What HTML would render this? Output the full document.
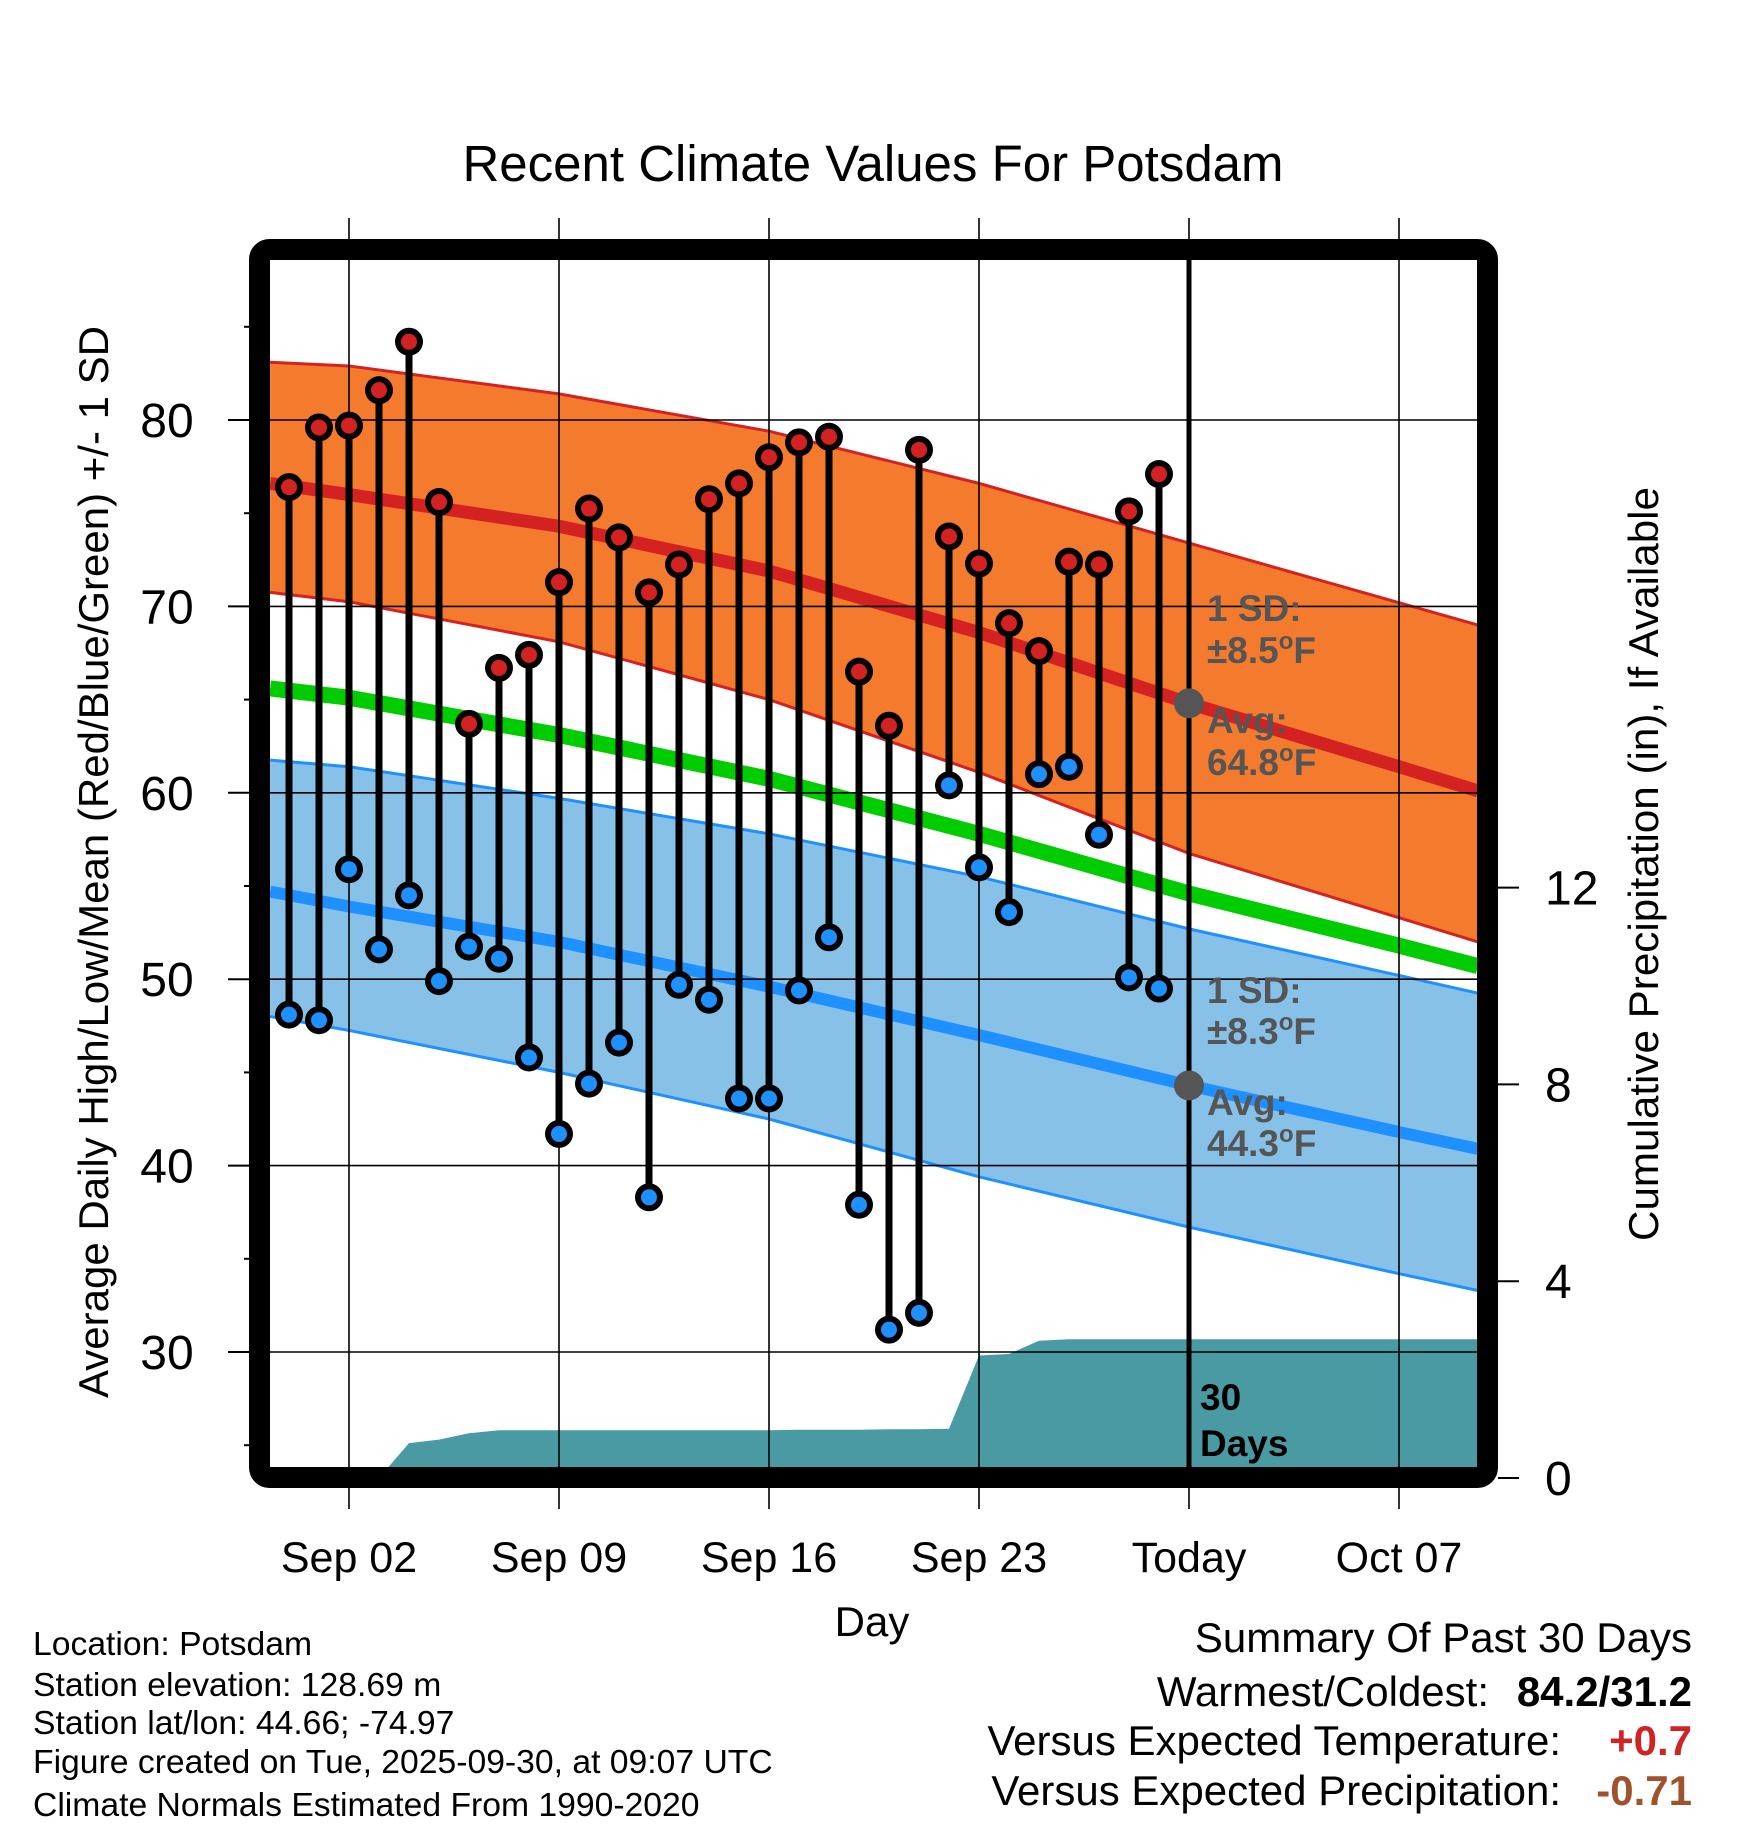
<!DOCTYPE html>
<html><head><meta charset="utf-8"><style>
html,body{margin:0;padding:0;background:#fff}
svg{display:block}
text{font-family:"Liberation Sans",sans-serif}
</style></head><body>
<svg id="chart" width="1748" height="1828" viewBox="0 0 1748 1828" xmlns="http://www.w3.org/2000/svg">
<text x="873" y="181" font-size="51" text-anchor="middle">Recent Climate Values For Potsdam</text>
<g id="plot"></g>
<text transform="translate(108,862) rotate(-90)" font-size="42" text-anchor="middle" textLength="1072" lengthAdjust="spacingAndGlyphs">Average Daily High/Low/Mean (Red/Blue/Green) +/- 1 SD</text>
<text transform="translate(1658,864) rotate(-90)" font-size="42" text-anchor="middle" textLength="754" lengthAdjust="spacingAndGlyphs">Cumulative Precipitation (in), If Available</text>
<text x="872" y="1636" font-size="42" text-anchor="middle">Day</text>
<g font-size="33.7">
<text x="33" y="1655">Location: Potsdam</text>
<text x="33" y="1696">Station elevation: 128.69 m</text>
<text x="33" y="1734">Station lat/lon: 44.66; -74.97</text>
<text x="33" y="1773">Figure created on Tue, 2025-09-30, at 09:07 UTC</text>
<text x="33" y="1816">Climate Normals Estimated From 1990-2020</text>
</g>
<g font-size="42">
<text x="1692" y="1652" text-anchor="end">Summary Of Past 30 Days</text>
<text x="1489" y="1706" text-anchor="end">Warmest/Coldest:</text>
<text x="1692" y="1706" text-anchor="end" font-weight="bold">84.2/31.2</text>
<text x="1561" y="1755" text-anchor="end">Versus Expected Temperature:</text>
<text x="1692" y="1755" text-anchor="end" font-weight="bold" fill="#d02424">+0.7</text>
<text x="1561" y="1805" text-anchor="end">Versus Expected Precipitation:</text>
<text x="1692" y="1805" text-anchor="end" font-weight="bold" fill="#a0522d">-0.71</text>
</g>
</svg>
<script>
// day offsets relative to Sep 02
const days = [-2,-1,0,1,2,3,4,5,6,7,8,9,10,11,12,13,14,15,16,17,18,19,20,21,22,23,24,25,26,27];
const highs = [76.4,79.6,79.7,81.6,84.2,75.6,63.7,66.7,67.4,71.3,75.25,73.7,70.75,72.25,75.75,76.6,78,78.8,79.1,66.5,63.6,78.4,73.75,72.3,69.1,67.6,72.4,72.25,75.1,77.1];
const lows = [48.1,47.8,55.9,51.6,54.5,49.9,51.75,51.1,45.8,41.7,44.4,46.6,38.3,49.7,48.9,43.6,43.6,49.4,52.25,37.9,31.2,32.1,60.4,56,53.6,61,61.4,57.75,50.1,49.5];
const precip = [0,0,0,0,0.71,0.78,0.91,0.97,0.97,0.97,0.97,0.97,0.97,0.97,0.97,0.97,0.97,0.98,0.98,0.98,0.99,0.99,1.0,2.49,2.52,2.79,2.82,2.82,2.82,2.82];
const normDays = [-2.63,0,7,14,21,28,35,37.63];
const normHigh = [76.6,76.0,74.3,71.9,68.6,64.8,61.4,60.1];
const highUpper = [83.1,82.9,81.4,79.4,76.6,73.4,70.2,69];
const highLower = [70.75,70.25,68.1,65,61.1,56.75,53.3,52];
const normMean = [65.6,65.1,63.1,60.75,57.8,54.6,51.8,50.7];
const normLow = [54.7,53.9,52.0,49.6,47,44.3,41.8,40.9];
const lowUpper = [61.75,61.4,59.7,57.8,55.5,52.7,50.2,49.25];
const lowLower = [48,47.25,45,42.5,39.4,36.7,34.2,33.3];
const xTickDays = [0,7,14,21,28,35];
const xTickLabels = ["Sep 02","Sep 09","Sep 16","Sep 23","Today","Oct 07"];
const yTicks = [30,40,50,60,70,80];
const y2Ticks = [0,4,8,12];
const todayDay = 28;

const NS="http://www.w3.org/2000/svg";
const X0=270,X1=1478,Y0=260,Y1=1468;
const xs=d=>349+30*d;
const ys=t=>420+(80-t)*18.64;
const yp=p=>1478-p*49.2;
const g=document.getElementById('plot');
function mk(tag,attrs,parent){const e=document.createElementNS(NS,tag);for(const k in attrs)e.setAttribute(k,attrs[k]);(parent||g).appendChild(e);return e;}
const clip=mk('clipPath',{id:'cp'});mk('rect',{x:X0,y:Y0,width:X1-X0,height:Y1-Y0},clip);
const inner=mk('g',{'clip-path':'url(#cp)'});
function band(up,lo,fill,name){
  let pts=normDays.map((d,i)=>xs(d)+','+ys(up[i]));
  pts=pts.concat(normDays.slice().reverse().map((d,i)=>xs(d)+','+ys(lo[lo.length-1-i])));
  const e=mk('polygon',{points:pts.join(' '),fill:fill},inner);
  
  
}
function line(arr,color,w,name){
  const e=mk('polyline',{points:normDays.map((d,i)=>xs(d)+','+ys(arr[i])).join(' '),fill:'none',stroke:color,'stroke-width':w,'stroke-linejoin':'round'},inner);
  
  
}
band(highUpper,highLower,'#f47a2e','normal-high-band');
line(highUpper,'#d42222',3,'high-band-upper-edge');
line(highLower,'#d42222',3,'high-band-lower-edge');
band(lowUpper,lowLower,'#87c1e8','normal-low-band');
line(lowUpper,'#1e90ff',3,'low-band-upper-edge');
line(lowLower,'#1e90ff',3,'low-band-lower-edge');
line(normMean,'#00cc00',16,'normal-mean-line');
line(normHigh,'#d42222',13,'normal-high-line');
line(normLow,'#1e90ff',12,'normal-low-line');
// precip
{
  let pts=days.map((d,i)=>xs(d)+','+yp(precip[i]));
  pts.push(X1+','+yp(precip[precip.length-1]));
  pts.push(X1+','+Y1); pts.push(xs(days[0])+','+Y1);
  const e=mk('polygon',{points:pts.join(' '),fill:'#4a9aa3'},inner);
  
  
}
// gridlines
yTicks.forEach(t=>{const e=mk('line',{x1:X0,x2:X1,y1:ys(t),y2:ys(t),stroke:'#000','stroke-width':1.6});
  
  });
xTickDays.forEach((d,i)=>{const e=mk('line',{x1:xs(d),x2:xs(d),y1:218,y2:1509,stroke:'#000','stroke-width':1.6});
  
  
  const t=mk('text',{x:xs(d),y:1572,'font-size':43,'text-anchor':'middle'});t.textContent=xTickLabels[i];
  
  });
// today line
{const e=mk('line',{x1:xs(todayDay),x2:xs(todayDay),y1:Y0,y2:Y1,stroke:'#000','stroke-width':5});
 
 }
// gray normal dots
[[normHigh,'today-normal-high-dot'],[normLow,'today-normal-low-dot']].forEach(([arr,n])=>{
  const c=mk('circle',{cx:xs(todayDay),cy:ys(arr[5]),r:15,fill:'#555'});
  
  
});
// labels
function lbl(x,y,txt,sup,fill,name){const t=mk('text',{x:x,y:y,'font-size':37,'font-weight':'bold',fill:fill});
  t.textContent=txt; if(sup){const s=mk('tspan',{'font-size':24,dy:-14},t);s.textContent='o';const f=mk('tspan',{dy:14},t);f.textContent='F';}
  
  }
lbl(1207,621,'1 SD:',false,'#555','high-sd-label');
lbl(1207,663,'\u00b18.5',true,'#555','high-sd-value');
lbl(1207,733,'Avg:',false,'#555','high-avg-label');
lbl(1207,775,'64.8',true,'#555','high-avg-value');
lbl(1207,1003,'1 SD:',false,'#555','low-sd-label');
lbl(1207,1044,'\u00b18.3',true,'#555','low-sd-value');
lbl(1207,1115,'Avg:',false,'#555','low-avg-label');
lbl(1207,1156,'44.3',true,'#555','low-avg-value');
lbl(1200,1410,'30',false,'#000','days-count-label');
lbl(1200,1456,'Days',false,'#000','days-word-label');
// stems and dots
days.forEach((d,i)=>{
  const s=mk('line',{x1:xs(d),x2:xs(d),y1:ys(highs[i]),y2:ys(lows[i]),stroke:'#000','stroke-width':7});
  
  
});
days.forEach((d,i)=>{
  [[highs[i],'#d42222','high-point'],[lows[i],'#1e90ff','low-point']].forEach(([v,c,n])=>{
    const o=mk('circle',{cx:xs(d),cy:ys(v),r:14,fill:'#000'});
    
    
    const p=mk('circle',{cx:xs(d),cy:ys(v),r:8,fill:c});
    
    
  });
});
// frame
{const f=mk('rect',{x:259.5,y:249.5,width:1228,height:1228,rx:10,fill:'none',stroke:'#000','stroke-width':21});
 
 }
// y ticks
for(let t=25;t<=85;t+=5){const major=t%10===0;
  const e=mk('line',{x1:major?228:244,x2:249,y1:ys(t),y2:ys(t),stroke:'#000','stroke-width':2});
  
  }
yTicks.forEach(t=>{const e=mk('text',{x:167,y:ys(t)+17,'font-size':48,'text-anchor':'middle'});e.textContent=t;
  
  });
y2Ticks.forEach(p=>{const e=mk('line',{x1:1498,x2:1519,y1:yp(p),y2:yp(p),stroke:'#000','stroke-width':2});
  
  
  const t=mk('text',{x:1545,y:yp(p)+17,'font-size':48});t.textContent=p;
  
  });
</script>
</body></html>
